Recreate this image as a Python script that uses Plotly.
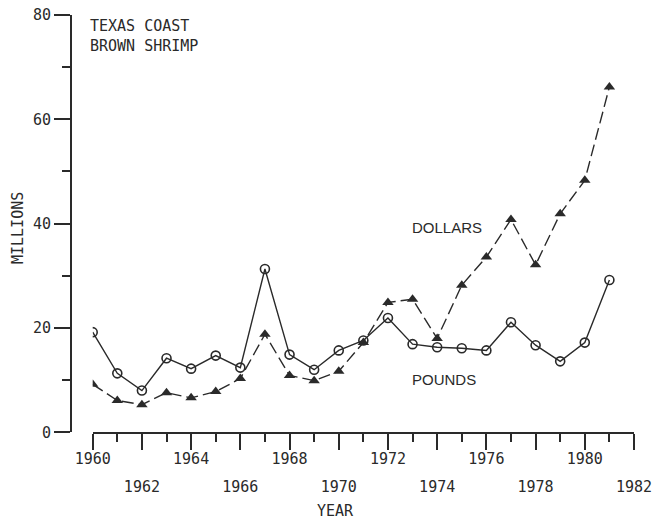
import plotly.graph_objects as go

years = list(range(1960, 1982))
pounds = [19.2, 11.3, 8.0, 14.2, 12.2, 14.7, 12.4, 31.3, 14.9, 12.0, 15.7,
          17.6, 21.9, 16.9, 16.3, 16.1, 15.7, 21.1, 16.7, 13.6, 17.2, 29.2]
dollars = [9.2, 6.1, 5.3, 7.6, 6.6, 7.8, 10.3, 18.8, 10.9, 9.9, 11.7,
           17.2, 24.9, 25.5, 18.0, 28.2, 33.6, 40.8, 32.1, 41.9, 48.3, 66.2]

upper_tick_years = [1960, 1964, 1968, 1972, 1976, 1980]
lower_tick_years = [1962, 1966, 1970, 1974, 1978, 1982]
major_ticks = list(range(1960, 1983, 2))
y_ticks = [0, 20, 40, 60, 80]

INK = "#2a2a2a"
MONO = "DejaVu Sans Mono"
SANS = "Liberation Sans"
W, H = 652, 522
L, R, T, B = 40, 12, 4, 40
PW, PH = W - L - R, H - T - B


def px_x(p):
    return (p - L) / PW


def px_y(p):
    return (H - B - p) / PH


fig = go.Figure()
fig.add_trace(go.Scatter(
    x=years, y=pounds, mode="lines+markers", name="POUNDS",
    line=dict(color=INK, width=1.4),
    marker=dict(symbol="circle-open", size=9, color=INK, line=dict(width=1.6, color=INK)),
))
fig.add_trace(go.Scatter(
    x=years, y=dollars, mode="lines+markers", name="DOLLARS",
    line=dict(color=INK, width=1.4, dash="12px,5px"),
    marker=dict(symbol="triangle-up", size=10, color=INK),
))
fig.add_trace(go.Scatter(x=[1960, 1982], y=[0, 0], xaxis="x2", mode="markers",
                         marker=dict(opacity=0), hoverinfo="skip", showlegend=False))

x_dom = [px_x(92.7), px_x(634)]
y_dom = [px_y(432.3), px_y(15)]

upper_text = [str(v) if v in upper_tick_years else "" for v in major_ticks]

fig.update_layout(
    width=W, height=H,
    margin=dict(l=L, r=R, t=T, b=B, autoexpand=False),
    paper_bgcolor="white", plot_bgcolor="white",
    showlegend=False,
    font=dict(family=MONO, color=INK, size=15),
    xaxis=dict(
        domain=x_dom, range=[1960, 1982], anchor="free",
        position=px_y(433), automargin=False,
        showgrid=False, zeroline=False,
        showline=True, linecolor=INK, linewidth=1.5,
        tickmode="array", tickvals=major_ticks, ticktext=upper_text,
        ticks="outside", ticklen=16, tickwidth=1.5, tickcolor=INK,
        ticklabelstandoff=-4, ticklabeloverflow="allow",
        minor=dict(tickmode="array", tickvals=list(range(1961, 1982, 2)),
                   ticks="outside", ticklen=8, tickwidth=1.5, tickcolor=INK),
        tickfont=dict(family=MONO, size=15, color=INK),
    ),
    xaxis2=dict(
        domain=x_dom, range=[1960, 1982], overlaying="x", anchor="free",
        position=px_y(476), side="bottom", automargin=False,
        showgrid=False, zeroline=False, showline=False,
        tickmode="array", tickvals=lower_tick_years,
        ticktext=[str(v) for v in lower_tick_years],
        ticklabeloverflow="allow",
        ticks="", tickfont=dict(family=MONO, size=15, color=INK),
    ),
    yaxis=dict(
        domain=y_dom, range=[0, 80], anchor="free", position=px_x(70.7),
        automargin=False,
        showgrid=False, zeroline=False,
        showline=True, linecolor=INK, linewidth=1.5,
        tickmode="array", tickvals=y_ticks, ticktext=[str(v) for v in y_ticks],
        ticks="outside", ticklen=16, tickwidth=1.5, tickcolor=INK,
        ticklabeloverflow="allow",
        minor=dict(tickmode="array", tickvals=[10, 30, 50, 70],
                   ticks="outside", ticklen=8, tickwidth=1.5, tickcolor=INK),
        tickfont=dict(family=MONO, size=15, color=INK),
    ),
)

fig.add_annotation(text="TEXAS COAST<br>BROWN SHRIMP", xref="paper", yref="paper",
                   x=px_x(88), y=px_y(15), xanchor="left", yanchor="top",
                   align="left", showarrow=False,
                   font=dict(family=MONO, size=15, color=INK))
fig.add_annotation(text="DOLLARS", xref="x", yref="y", x=1972.88, y=39.2,
                   xanchor="left", yanchor="middle", showarrow=False,
                   font=dict(family=SANS, size=15, color=INK))
fig.add_annotation(text="POUNDS", xref="x", yref="y", x=1972.88, y=10.1,
                   xanchor="left", yanchor="middle", showarrow=False,
                   font=dict(family=SANS, size=15, color=INK))
fig.add_annotation(text="MILLIONS", xref="paper", yref="paper",
                   x=px_x(18), y=px_y(228), textangle=-90,
                   xanchor="center", yanchor="middle", showarrow=False,
                   font=dict(family=MONO, size=15, color=INK))
fig.add_annotation(text="YEAR", xref="paper", yref="paper",
                   x=px_x(335), y=px_y(511),
                   xanchor="center", yanchor="middle", showarrow=False,
                   font=dict(family=MONO, size=15, color=INK))

fig.write_html(
    "out.html",
    config={"displayModeBar": False},
    post_script="document.body.style.margin='0px';document.body.style.overflow='hidden';",
)
